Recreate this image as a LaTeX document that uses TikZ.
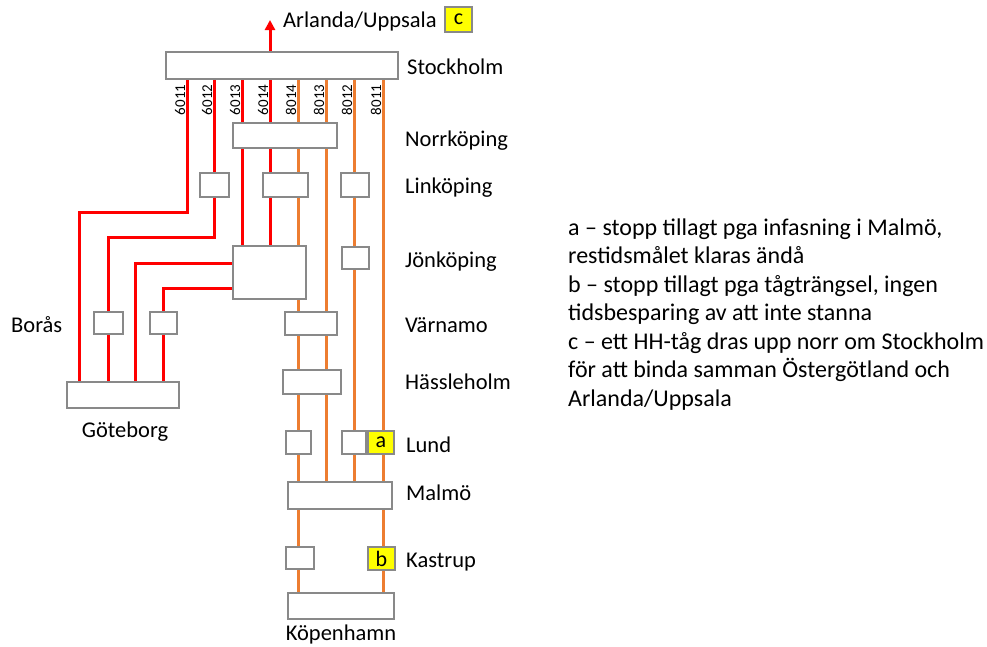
\documentclass[tikz,border=0pt]{standalone}
\usepackage{fontspec}
\setmainfont{Carlito}
\usetikzlibrary{arrows.meta}
\pgfdeclarelayer{background}
\pgfdeclarelayer{canvas}
\pgfsetlayers{canvas,background,main}
\definecolor{hhred}{RGB}{255,0,0}
\definecolor{hhorange}{RGB}{237,125,49}
\definecolor{boxgray}{RGB}{137,137,137}
\definecolor{hlyellow}{RGB}{255,255,0}
\tikzset{
  stn/.style={draw=boxgray, fill=white, line width=1.6pt, inner sep=0pt, outer sep=0pt, rectangle},
  mark box/.style={stn, fill=hlyellow, font=\fontsize{22}{26}\selectfont},
  redl/.style={draw=hhred, line width=3pt},
  orgl/.style={draw=hhorange, line width=3pt},
  lbl/.style={inner sep=0pt, font=\fontsize{22.5}{26}\selectfont},
  trainno/.style={inner sep=0pt, rotate=90, font=\fontsize{15}{17}\selectfont},
}
\begin{document}
\begin{tikzpicture}[x=1pt, y=-1pt]
  \begin{pgfonlayer}{canvas}
    \fill[white] (0,0) rectangle (987,646);
  \end{pgfonlayer}
  \useasboundingbox (0,0) rectangle (987,646);

  % track columns below Stockholm
  \coordinate (x1) at (187,0);
  \coordinate (x2) at (214,0);
  \coordinate (x3) at (242,0);
  \coordinate (x4) at (270,0);
  \coordinate (x5) at (298,0);
  \coordinate (x6) at (326,0);
  \coordinate (x7) at (354,0);
  \coordinate (x8) at (383,0);
  % bends of the Göteborg tracks
  \coordinate (k1) at (79,212);
  \coordinate (k2) at (108,237);
  \coordinate (k3) at (135,263);
  \coordinate (k4) at (163,288);
  \coordinate (tip) at (270,20);

  % stations
  \node[stn, minimum width=232pt, minimum height=27pt] (sto) at (282,65.5) {};
  \node[stn, minimum width=104pt, minimum height=25pt] (nor) at (285,135.5) {};
  \node[stn, minimum width=29pt, minimum height=24pt] (lin1) at (214.5,185) {};
  \node[stn, minimum width=45pt, minimum height=24pt] (lin2) at (285.5,185) {};
  \node[stn, minimum width=28pt, minimum height=24pt] (lin3) at (355,185) {};
  \node[stn, minimum width=73pt, minimum height=53pt] (jon) at (269.5,272.5) {};
  \node[stn, minimum width=27pt, minimum height=22pt] (jon3) at (355.5,258) {};
  \node[stn, minimum width=29pt, minimum height=22pt] (bor1) at (108.5,323) {};
  \node[stn, minimum width=27pt, minimum height=22pt] (bor2) at (163.5,323) {};
  \node[stn, minimum width=52pt, minimum height=23pt] (var) at (311,323.5) {};
  \node[stn, minimum width=58pt, minimum height=24pt] (has) at (312,382) {};
  \node[stn, minimum width=112pt, minimum height=26pt] (gbg) at (123,395) {};
  \node[stn, minimum width=25pt, minimum height=23pt] (lund1) at (298.5,442.5) {};
  \node[stn, minimum width=24pt, minimum height=23pt] (lund2) at (354,442.5) {};
  \node[mark box, minimum width=26pt, minimum height=23pt] (lunda) at (381,442.5) {a};
  \node[stn, minimum width=104pt, minimum height=27pt] (mal) at (340,495.5) {};
  \node[stn, minimum width=28pt, minimum height=22pt] (kas1) at (300,558) {};
  \node[mark box, minimum width=27pt, minimum height=23pt] (kasb) at (381.5,558.5) {b};
  \node[stn, minimum width=106pt, minimum height=26pt] (kop) at (341,606) {};
  \node[mark box, minimum width=27pt, minimum height=25pt] (cbox) at (458.5,19.5) {c};

  % tracks, drawn beneath the station boxes
  \begin{pgfonlayer}{background}
    \draw[redl, -{Triangle[width=10pt,length=10pt]}] (sto.north -| x4) -- (tip);
    \draw[redl] (sto.south -| x1) |- (k1) -- (gbg.north -| k1);
    \draw[redl] (sto.south -| x2) |- (k2) -- (gbg.north -| k2);
    \draw[redl] (sto.south -| x3) -- (jon.north -| x3);
    \draw[redl] (sto.south -| x4) -- (jon.north -| x4);
    \draw[redl] (jon.west |- k3) -| (gbg.north -| k3);
    \draw[redl] (jon.west |- k4) -| (gbg.north -| k4);
    \draw[orgl] (sto.south -| x5) -- (kop.north -| x5);
    \draw[orgl] (sto.south -| x6) -- (mal.north -| x6);
    \draw[orgl] (sto.south -| x7) -- (mal.north -| x7);
    \draw[orgl] (sto.south -| x8) -- (kop.north -| x8);
  \end{pgfonlayer}

  % train numbers
  \node[trainno] (n6011) at (180,100) {6011};
  \node[trainno] (n6012) at (207,100) {6012};
  \node[trainno] (n6013) at (235,100) {6013};
  \node[trainno] (n6014) at (263,100) {6014};
  \node[trainno] (n8014) at (291,100) {8014};
  \node[trainno] (n8013) at (319,100) {8013};
  \node[trainno] (n8012) at (347,100) {8012};
  \node[trainno] (n8011) at (376,100) {8011};

  % station names
  \node[lbl, anchor=base west] (tarl) at (283,27) {Arlanda/Uppsala};
  \node[lbl, anchor=base west] (tsto) at (407,74) {Stockholm};
  \node[lbl, anchor=base west] (tnor) at (405,146) {Norrköping};
  \node[lbl, anchor=base west] (tlin) at (405,193) {Linköping};
  \node[lbl, anchor=base west] (tjon) at (405,267) {Jönköping};
  \node[lbl, anchor=base west] (tvar) at (405,332) {Värnamo};
  \node[lbl, anchor=base west] (thas) at (405,389) {Hässleholm};
  \node[lbl, anchor=base west] (tlun) at (406,452) {Lund};
  \node[lbl, anchor=base west] (tmal) at (406,500) {Malmö};
  \node[lbl, anchor=base west] (tkas) at (406,567) {Kastrup};
  \node[lbl, anchor=base west] (tbor) at (11,332) {Borås};
  \node[lbl, anchor=base] (tgbg) at (125,437) {Göteborg};
  \node[lbl, anchor=base] (tkop) at (341,640) {Köpenhamn};

  % notes
  \node[inner sep=0pt, anchor=north west, align=left,
        font=\fontsize{24}{28.5}\selectfont] (notes) at (568,218.5) {%
    a – stopp tillagt pga infasning i Malmö,\\
    restidsmålet klaras ändå\\
    b – stopp tillagt pga tågträngsel, ingen\\
    tidsbesparing av att inte stanna\\
    c – ett HH-tåg dras upp norr om Stockholm\\
    för att binda samman Östergötland och\\
    Arlanda/Uppsala};
\end{tikzpicture}
\end{document}
